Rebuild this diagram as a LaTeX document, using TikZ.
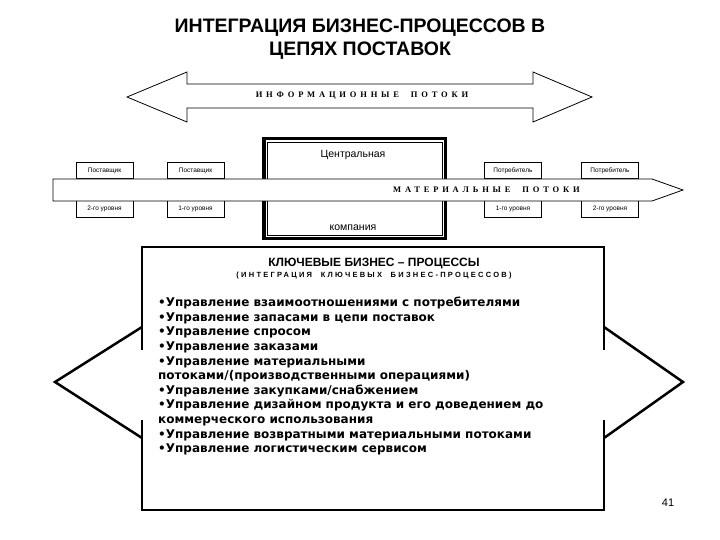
\documentclass[tikz,border=0pt]{standalone}
\usepackage{fontspec}
\setmainfont{Liberation Sans}
\newfontfamily\flowfont[LetterSpace=45]{Liberation Serif}
\newfontfamily\capsfont[LetterSpace=30]{Liberation Sans}
\newfontfamily\listfont{DejaVu Sans}
\begin{document}
\begin{tikzpicture}[x=1pt,y=-1pt,
  level box/.style={draw,line width=0.6pt,minimum width=57pt,minimum height=16.5pt,
    inner sep=0pt,font=\fontsize{6.5}{7}\selectfont},
  flow label/.style={font=\flowfont\bfseries\fontsize{8.5}{9}\selectfont},
  outline/.style={line width=2.5pt}]
  \useasboundingbox (0,0) rectangle (720,540);
  \node[font=\fontsize{19.5}{23}\selectfont\bfseries,align=center] (title) at (360,39)
    {ИНТЕГРАЦИЯ БИЗНЕС-ПРОЦЕССОВ В\\ЦЕПЯХ ПОСТАВОК};
  % information flows
  \draw[line width=0.8pt,fill=white] (127,97) -- (187,72) -- (187,84) -- (533,84) -- (533,72)
    -- (592,97) -- (533,122) -- (533,108) -- (187,108) -- (187,122) -- cycle;
  \node[flow label] (info) at (362,96) {ИНФОРМАЦИОННЫЕ~~ПОТОКИ};
  % central company
  \node[draw,line width=3.5pt,minimum width=181.5pt,minimum height=99.5pt] (company) at (354.5,188.5) {};
  \draw[line width=0.7pt] ([shift={(5,5)}]company.north west) rectangle ([shift={(-5,-5)}]company.south east);
  \node[font=\fontsize{10.5}{12}\selectfont] (central) at (353,155) {Центральная};
  \node[font=\fontsize{10.5}{12}\selectfont] (firm) at (353,228) {компания};
  % suppliers and customers
  \node[level box] (sup2) at (104.5,170.5) {Поставщик};
  \node[level box] (sup2l) at (104.5,209) {2-го уровня};
  \node[level box] (sup1) at (195.5,170.5) {Поставщик};
  \node[level box] (sup1l) at (195.5,209) {1-го уровня};
  \node[level box] (cus1) at (513,170.5) {Потребитель};
  \node[level box] (cus1l) at (513,209) {1-го уровня};
  \node[level box] (cus2) at (610,170.5) {Потребитель};
  \node[level box] (cus2l) at (610,209) {2-го уровня};
  % material flows
  \draw[line width=0.8pt,fill=white] (53,179) -- (652,179) -- (683,190) -- (652,201) -- (53,201) -- cycle;
  \node[flow label] (mat) at (486.5,190) {МАТЕРИАЛЬНЫЕ~~ПОТОКИ};
  % key processes
  \draw[outline] (142,350) -- (142,247) -- (604,247) -- (604,350);
  \draw[outline] (604,327) -- (683,382) -- (604,438);
  \draw[outline] (604,420) -- (604,510) -- (142,510) -- (142,420);
  \draw[outline] (142,438) -- (55,382) -- (142,327);
  \node[font=\bfseries\fontsize{12}{14}\selectfont] (keytitle) at (374,264) {КЛЮЧЕВЫЕ БИЗНЕС – ПРОЦЕССЫ};
  \node[font=\capsfont\bfseries\fontsize{7.5}{8}\selectfont] (subtitle) at (374,276)
    {(ИНТЕГРАЦИЯ~~КЛЮЧЕВЫХ~~БИЗНЕС-ПРОЦЕССОВ)};
  \node[anchor=north west,inner sep=0pt,align=left,font=\listfont\bfseries\fontsize{12}{14.6}\selectfont] (list) at (158,297)
    {•Управление взаимоотношениями с потребителями\\
     •Управление запасами в цепи поставок\\
     •Управление спросом\\
     •Управление заказами\\
     •Управление материальными\\
     потоками/(производственными операциями)\\
     •Управление закупками/снабжением\\
     •Управление дизайном продукта и его доведением до\\
     коммерческого использования\\
     •Управление возвратными материальными потоками\\
     •Управление логистическим сервисом};
  \node[font=\fontsize{11}{13}\selectfont] (page) at (668,503) {41};
\end{tikzpicture}
\end{document}
